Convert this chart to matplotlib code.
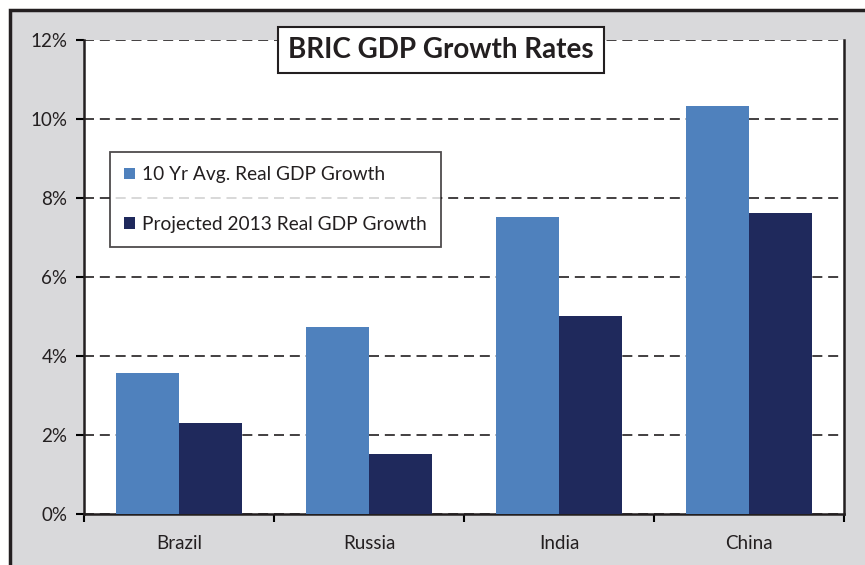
import matplotlib.pyplot as plt
import matplotlib.patches as patches
import numpy as np
from matplotlib.ticker import FuncFormatter

countries = ['Brazil', 'Russia', 'India', 'China']
avg_10yr = [3.57, 4.73, 7.52, 10.33]
proj_2013 = [2.31, 1.52, 5.01, 7.62]
y_ticks = [0, 2, 4, 6, 8, 10, 12]

light_blue = '#4f81bd'
navy = '#1f295c'
gray = '#d9d9db'

plt.rcParams['font.family'] = ['Lato', 'DejaVu Sans']

fig = plt.figure(figsize=(8.65, 5.65), dpi=100)
fig.patch.set_facecolor('white')

# gray frame behind the chart
W, H = 865, 565
frame = patches.Rectangle((10 / W, -0.1), 1.2, (H - 10) / H + 0.1,
                          transform=fig.transFigure, facecolor=gray,
                          edgecolor='#231f20', linewidth=2.5, zorder=-10)
fig.patches.append(frame)

ax = fig.add_axes([84 / W, 1 - 514 / H, (844 - 84) / W, (514 - 40) / H])
ax.set_facecolor('white')

x = np.arange(len(countries))
w = 1 / 3
ax.bar(x - w / 2, avg_10yr, w, color=light_blue,
       label='10 Yr Avg. Real GDP Growth', zorder=3)
ax.bar(x + w / 2, proj_2013, w, color=navy,
       label='Projected 2013 Real GDP Growth', zorder=3)

ax.set_xlim(-0.5, 3.5)
ax.set_ylim(0, 12)
ax.set_yticks(y_ticks)
ax.yaxis.set_major_formatter(FuncFormatter(lambda v, p: f'{v:.0f}%'))
ax.set_xticks(np.arange(-0.5, 4, 1))
ax.set_xticklabels([])
ax.set_xticks(x, minor=True)
ax.set_xticklabels(countries, minor=True)
ax.tick_params(axis='x', which='minor', length=0, pad=15, labelsize=13.5, colors='#231f20')
ax.tick_params(axis='x', which='major', length=6, width=1.5, direction='out')
ax.tick_params(axis='y', length=6, width=1.5, direction='out', labelsize=13.5,
               labelcolor='#231f20', pad=6)

ax.yaxis.grid(True, linestyle=(0, (6, 3.5)), color='#231f20', linewidth=1.2, zorder=1)
ax.set_axisbelow(True)
for s in ['left', 'bottom', 'right']:
    ax.spines[s].set_linewidth(1.8)
    ax.spines[s].set_color('#231f20')
ax.spines['top'].set_visible(False)

leg = ax.legend(loc='upper left', bbox_to_anchor=(26 / 760, 1 - 152 / 474 + 40 / 474),
                fontsize=13.8, frameon=True, fancybox=False, edgecolor='#231f20',
                handlelength=0.55, handleheight=0.55, handletextpad=0.35,
                labelspacing=1.7, borderpad=0.75, borderaxespad=0)
leg.get_frame().set_linewidth(1.3)
for t in leg.get_texts():
    t.set_color('#231f20')

fig.text(441 / W, 1 - 50 / H, 'BRIC GDP Growth Rates', ha='center', va='center',
         fontsize=20, fontweight='bold', color='#231f20',
         bbox=dict(boxstyle='square,pad=0.35', facecolor='white',
                   edgecolor='#231f20', linewidth=1.5))

fig.savefig('out.png', dpi=100)
